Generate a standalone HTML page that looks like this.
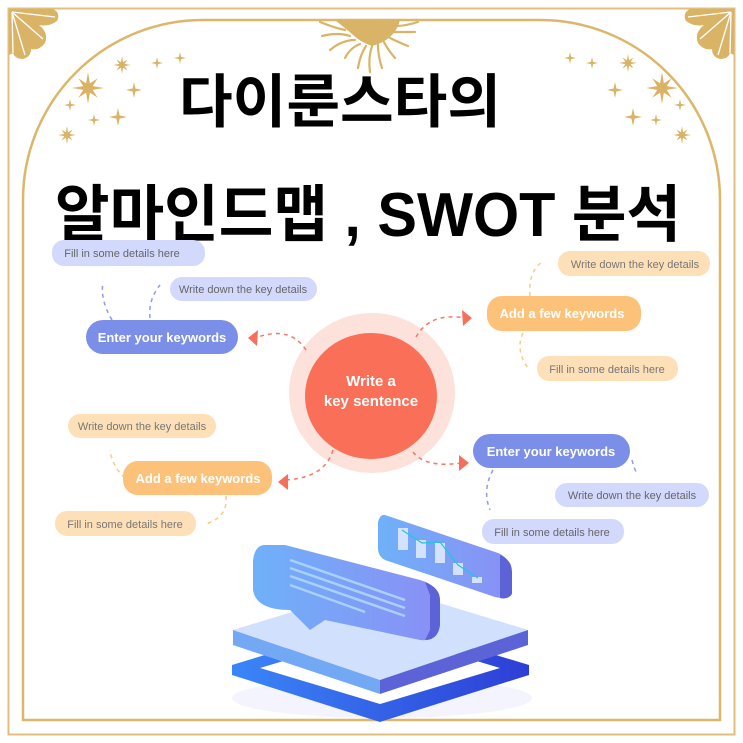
<!DOCTYPE html>
<html><head><meta charset="utf-8"><style>
body{margin:0;background:#fff}
svg{display:block}
.t{font-family:"Liberation Sans","Noto Sans CJK KR",sans-serif}
</style></head><body>
<svg width="743" height="743" viewBox="0 0 743 743" xmlns="http://www.w3.org/2000/svg">
<defs>
<path id="s4" d="M0,-1 L0.18,-0.18 L1,0 L0.18,0.18 L0,1 L-0.18,0.18 L-1,0 L-0.18,-0.18Z"/>
<path id="s8" d="M0,-1 L0.12,-0.3 L0.6,-0.6 L0.3,-0.12 L1,0 L0.3,0.12 L0.6,0.6 L0.12,0.3 L0,1 L-0.12,0.3 L-0.6,0.6 L-0.3,0.12 L-1,0 L-0.3,-0.12 L-0.6,-0.6 L-0.12,-0.3Z"/>
<g id="fan">
<path d="M0,0 L44,0 Q52,4 48,12 Q40,18 30,16 Q40,24 36,34 Q30,42 22,40 Q22,48 14,50 Q6,50 4,44 L0,46Z" fill="#d9b466"/>
<g stroke="#fff" stroke-width="1.3" fill="none"><path d="M3,3 L46,8"/><path d="M3,3 L34,30"/><path d="M3,3 L16,46"/><path d="M3,3 L4,44"/></g>
</g>
<linearGradient id="bl" x1="0" x2="1"><stop offset="0" stop-color="#6fb1f8"/><stop offset="1" stop-color="#8a8ff5"/></linearGradient>
<linearGradient id="bf" x1="0" x2="1"><stop offset="0" stop-color="#3a86f8"/><stop offset="1" stop-color="#2d3ed6"/></linearGradient>
</defs>
<rect x="8.5" y="8.5" width="726" height="726" fill="none" stroke="#e1bf7a" stroke-width="2"/>
<path d="M23,720 L23,200 A180,180 0 0 1 203,20 L540,20 A180,180 0 0 1 720,200 L720,720 Z" fill="none" stroke="#dcb66a" stroke-width="2.5"/>
<use href="#fan" transform="translate(9,9)"/>
<use href="#fan" transform="translate(734,9) scale(-1,1)"/>
<!-- sun -->
<g fill="#d9b466">
<path d="M335,20 L400,20 Q395,40 372,46 Q360,42 352,34Z"/>
<g stroke="#d9b466" stroke-width="2.2" fill="none" stroke-linecap="round">
<path d="M320,22 Q335,28 345,30"/><path d="M322,36 Q338,32 350,36"/><path d="M330,50 Q342,40 355,40"/>
<path d="M345,58 Q350,48 360,44"/><path d="M358,68 Q360,55 366,46"/><path d="M370,72 Q368,58 372,46"/>
<path d="M382,68 Q378,56 378,45"/><path d="M395,58 Q388,50 384,42"/><path d="M408,46 Q398,42 390,38"/>
<path d="M415,32 Q402,32 394,32"/><path d="M418,22 Q405,26 396,26"/>
</g></g>
<g fill="#d9b466">
<use href="#s8" transform="translate(88,88) scale(16)"/>
<use href="#s8" transform="translate(122,65) scale(9)"/>
<use href="#s4" transform="translate(134,90) scale(8)"/>
<use href="#s4" transform="translate(157,63) scale(6)"/>
<use href="#s4" transform="translate(180,58) scale(6)"/>
<use href="#s4" transform="translate(70,105) scale(6)"/>
<use href="#s4" transform="translate(118,117) scale(9)"/>
<use href="#s4" transform="translate(94,120) scale(6)"/>
<use href="#s8" transform="translate(67,135) scale(9)"/>
<use href="#s8" transform="translate(662,88) scale(16)"/>
<use href="#s8" transform="translate(628,63) scale(9)"/>
<use href="#s4" transform="translate(615,90) scale(8)"/>
<use href="#s4" transform="translate(592,63) scale(6)"/>
<use href="#s4" transform="translate(570,58) scale(6)"/>
<use href="#s4" transform="translate(680,105) scale(6)"/>
<use href="#s4" transform="translate(633,117) scale(9)"/>
<use href="#s4" transform="translate(656,120) scale(6)"/>
<use href="#s8" transform="translate(682,135) scale(9)"/>
</g>
<text class="t" x="340" y="122" font-size="58" font-weight="bold" text-anchor="middle" textLength="322" lengthAdjust="spacingAndGlyphs">다이룬스타의</text>
<text class="t" x="368" y="236" font-size="62" font-weight="bold" text-anchor="middle" textLength="626" lengthAdjust="spacingAndGlyphs">알마인드맵 , SWOT 분석</text>

<!-- center -->
<ellipse cx="372" cy="393" rx="83" ry="80" fill="#fde2dc"/>
<ellipse cx="371" cy="396" rx="66" ry="63" fill="#fa6f58"/>
<text class="t" x="371" y="386" font-size="15" font-weight="bold" fill="#fff" text-anchor="middle">Write a</text>
<text class="t" x="371" y="406" font-size="15" font-weight="bold" fill="#fff" text-anchor="middle">key sentence</text>

<!-- connectors -->
<g fill="none" stroke-width="1.5" stroke-dasharray="4,4">
<path d="M306,350 Q290,325 255,338" stroke="#f47a63"/>
<path d="M416,337 Q430,312 465,318" stroke="#f47a63"/>
<path d="M333,450 Q325,478 285,480" stroke="#f47a63"/>
<path d="M413,452 Q425,468 462,463" stroke="#f47a63"/>
<path d="M112,320 Q100,300 103,282" stroke="#8c9bee"/>
<path d="M150,318 Q148,300 160,285" stroke="#8c9bee"/>
<path d="M530,296 Q528,272 542,262" stroke="#fbc987"/>
<path d="M523,333 Q515,350 528,368" stroke="#fbc987"/>
<path d="M125,478 Q112,466 110,450" stroke="#fbc987"/>
<path d="M226,496 Q228,518 205,524" stroke="#fbc987"/>
<path d="M493,470 Q482,490 490,510" stroke="#8c9bee"/>
<path d="M632,460 Q634,468 637,474" stroke="#8c9bee"/>
</g>
<g fill="#f4705b">
<path d="M248,338 L258,330 L257,346Z"/><path d="M472,318 L462,310 L463,326Z"/>
<path d="M278,482 L288,474 L288,490Z"/><path d="M469,463 L459,455 L459,471Z"/>
</g>

<!-- bubbles -->
<g class="t" font-size="11" text-anchor="middle">
<rect x="52" y="240" width="153" height="26" rx="12" fill="#d3d9fc"/><text x="122" y="257" fill="#666">Fill in some details here</text>
<rect x="170" y="277" width="147" height="24" rx="12" fill="#d3d9fc"/><text x="243" y="293" fill="#666">Write down the key details</text>
<rect x="86" y="320" width="152" height="34" rx="17" fill="#7b8fe8"/><text x="162" y="342" fill="#fff" font-size="13" font-weight="bold">Enter your keywords</text>
<rect x="558" y="251" width="152" height="25" rx="12" fill="#fde0b8"/><text x="635" y="268" fill="#777">Write down the key details</text>
<rect x="487" y="296" width="154" height="35" rx="15" fill="#fdc27a"/><text x="562" y="318" fill="#fff" font-size="13" font-weight="bold">Add a few keywords</text>
<rect x="537" y="356" width="141" height="25" rx="12" fill="#fde0b8"/><text x="607" y="373" fill="#777">Fill in some details here</text>
<rect x="68" y="414" width="148" height="24" rx="12" fill="#fde0b8"/><text x="142" y="430" fill="#777">Write down the key details</text>
<rect x="123" y="461" width="149" height="34" rx="15" fill="#fdc27a"/><text x="198" y="483" fill="#fff" font-size="13" font-weight="bold">Add a few keywords</text>
<rect x="55" y="511" width="141" height="25" rx="12" fill="#fde0b8"/><text x="125" y="528" fill="#777">Fill in some details here</text>
<rect x="473" y="434" width="157" height="34" rx="17" fill="#7b8fe8"/><text x="551" y="456" fill="#fff" font-size="13" font-weight="bold">Enter your keywords</text>
<rect x="555" y="483" width="154" height="24" rx="12" fill="#d3d9fc"/><text x="632" y="499" fill="#666">Write down the key details</text>
<rect x="482" y="519" width="142" height="25" rx="12" fill="#d3d9fc"/><text x="552" y="536" fill="#666">Fill in some details here</text>
</g>

<!-- illustration -->
<ellipse cx="382" cy="698" rx="150" ry="20" fill="#eef0fe" opacity="0.7"/>
<path d="M232,665 L380,620 L529,665 L529,675 L380,722 L232,675Z" fill="url(#bf)"/>
<path d="M260,668 L380,632 L500,668 L380,704Z" fill="#fff"/>
<path d="M233,630 L380,585 L528,630 L380,680Z" fill="#d0e0fd"/>
<path d="M233,630 L380,680 L380,694 L233,645Z" fill="#73a8f5"/>
<path d="M380,680 L528,630 L528,645 L380,694Z" fill="#5b63d6"/>
<path d="M265,545 Q255,545 253,560 L253,590 Q256,610 290,610 L310,630 L325,620 L420,640 Q437,642 440,625 L440,600 Q438,585 420,580 L285,545Z" fill="url(#bl)"/>
<path d="M425,582 Q440,588 440,600 L440,625 Q438,640 425,640 L430,630 L430,595Z" fill="#5b63d6"/>
<g stroke="#a8d0fb" stroke-width="2.5"><line x1="290" y1="560" x2="405" y2="600"/><line x1="290" y1="568" x2="405" y2="608"/><line x1="290" y1="576" x2="405" y2="616"/><line x1="290" y1="585" x2="365" y2="612"/></g>
<path d="M385,515 L498,553 Q510,558 510,570 L510,592 Q508,600 495,597 L385,560 Q377,556 378,545 L378,522 Q380,514 385,515Z" fill="url(#bl)"/>
<path d="M500,555 Q512,560 512,572 L512,594 Q508,600 500,598Z" fill="#5b63d6"/>
<g fill="#d4e2fd"><rect x="398" y="528" width="10" height="22"/><rect x="416" y="540" width="10" height="18"/><rect x="435" y="543" width="10" height="20"/><rect x="453" y="563" width="10" height="12"/><rect x="472" y="577" width="10" height="6"/></g>
<path d="M402,530 L422,543 L440,542 L458,565 L478,578" fill="none" stroke="#22c4de" stroke-width="1.2"/>
</svg>
</body></html>
